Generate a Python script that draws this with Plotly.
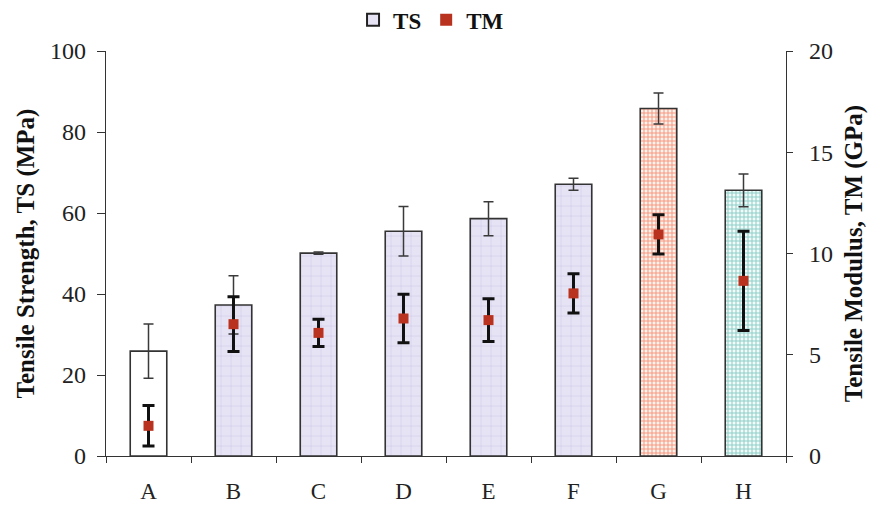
import plotly.graph_objects as go

# Samples and measured tensile properties (mean ± standard deviation)
samples = ["A", "B", "C", "D", "E", "F", "G", "H"]
ts_mean = [25.9, 37.3, 50.1, 55.5, 58.6, 67.1, 85.8, 65.6]
ts_err = [6.7, 7.2, 0.3, 6.1, 4.2, 1.5, 3.8, 4.05]
tm_mean = [1.49, 6.51, 6.08, 6.79, 6.71, 8.03, 10.94, 8.65]
tm_err = [1.0, 1.35, 0.67, 1.2, 1.05, 0.97, 0.97, 2.45]
fill_style = ["plain", "lavender", "lavender", "lavender", "lavender", "lavender",
              "orange", "teal"]

left_ticks = [0, 20, 40, 60, 80, 100]
right_ticks = [0, 5, 10, 15, 20]

# Hatch styles for the bar groups
styles = {
    "plain": dict(bg="#ffffff", fg="#ffffff", shape="", size=8, solidity=0.2),
    "lavender": dict(bg="#e6e3f5", fg="#cfcae6", shape="+", size=10, solidity=0.12),
    "orange": dict(bg="#fff3ee", fg="#f59a82", shape="+", size=4, solidity=0.45),
    "teal": dict(bg="#f2fbfa", fg="#90d0c9", shape="+", size=4, solidity=0.45),
}

serif = "Liberation Serif, Times New Roman, serif"

fig = go.Figure()

for key, st in styles.items():
    idx = [i for i, s in enumerate(fill_style) if s == key]
    fig.add_trace(go.Bar(
        x=[samples[i] for i in idx], y=[ts_mean[i] for i in idx],
        name="TS", showlegend=False, width=0.43,
        marker=dict(
            color=st["bg"],
            line=dict(color="#333333", width=1.6),
            pattern=dict(shape=st["shape"], fgcolor=st["fg"], bgcolor=st["bg"],
                         fgopacity=1, size=st["size"], solidity=st["solidity"],
                         fillmode="replace"),
        ),
        error_y=dict(type="data", array=[ts_err[i] for i in idx], visible=True,
                     color="#3a3a3a", thickness=1.5, width=5),
    ))

# legend entry for the strength bars
fig.add_trace(go.Bar(
    x=[None], y=[None], name="TS",
    marker=dict(color="#e6e3f5", line=dict(color="#222222", width=1.8)),
))

fig.add_trace(go.Scatter(
    x=samples, y=tm_mean, name="TM", yaxis="y2", mode="markers",
    marker=dict(symbol="square", size=10, color="#b8321f"),
    error_y=dict(type="data", array=tm_err, visible=True,
                 color="#111111", thickness=3, width=6),
))

fig.update_layout(
    width=869, height=506,
    margin=dict(l=106, r=83, t=51, b=50, autoexpand=False),
    paper_bgcolor="white", plot_bgcolor="white",
    font=dict(family=serif, size=23, color="#222222"),
    barmode="overlay",
    legend=dict(orientation="h", x=0.478, xanchor="center", y=1.077, yanchor="middle",
                yref="paper", font=dict(family=serif, size=23, color="#111111",
                                        weight="bold"),
                itemsizing="constant", traceorder="normal"),
    xaxis=dict(
        categoryorder="array", categoryarray=samples,
        showline=True, linecolor="#333333", linewidth=1.2,
        ticks="outside", tickson="boundaries", ticklen=6, tickcolor="#333333",
        showgrid=False, tickfont=dict(size=23, color="#222222"),
        ticklabelstandoff=14,
        range=[-0.5, 7.5], automargin=False,
    ),
    yaxis=dict(
        range=[0, 100], tickvals=left_ticks, showline=True, linecolor="#333333",
        linewidth=1.2, ticks="outside", ticklen=8, tickcolor="#333333",
        showgrid=False, zeroline=False, tickfont=dict(size=24, color="#222222"),
        ticklabelstandoff=6, automargin=False,
        title=dict(text="Tensile Strength, TS (MPa)", standoff=8,
                   font=dict(size=25, color="#111111", weight="bold")),
    ),
    yaxis2=dict(
        range=[0, 20], tickvals=right_ticks, overlaying="y", side="right",
        showline=True, linecolor="#333333", linewidth=1.2, ticks="outside",
        ticklen=6, tickcolor="#333333", showgrid=False, zeroline=False,
        tickfont=dict(size=24, color="#222222"), ticklabelstandoff=11,
        automargin=False,
        title=dict(text="Tensile Modulus, TM (GPa)", standoff=12,
                   font=dict(size=25, color="#111111", weight="bold")),
    ),
)

fig.write_html("out.html")
